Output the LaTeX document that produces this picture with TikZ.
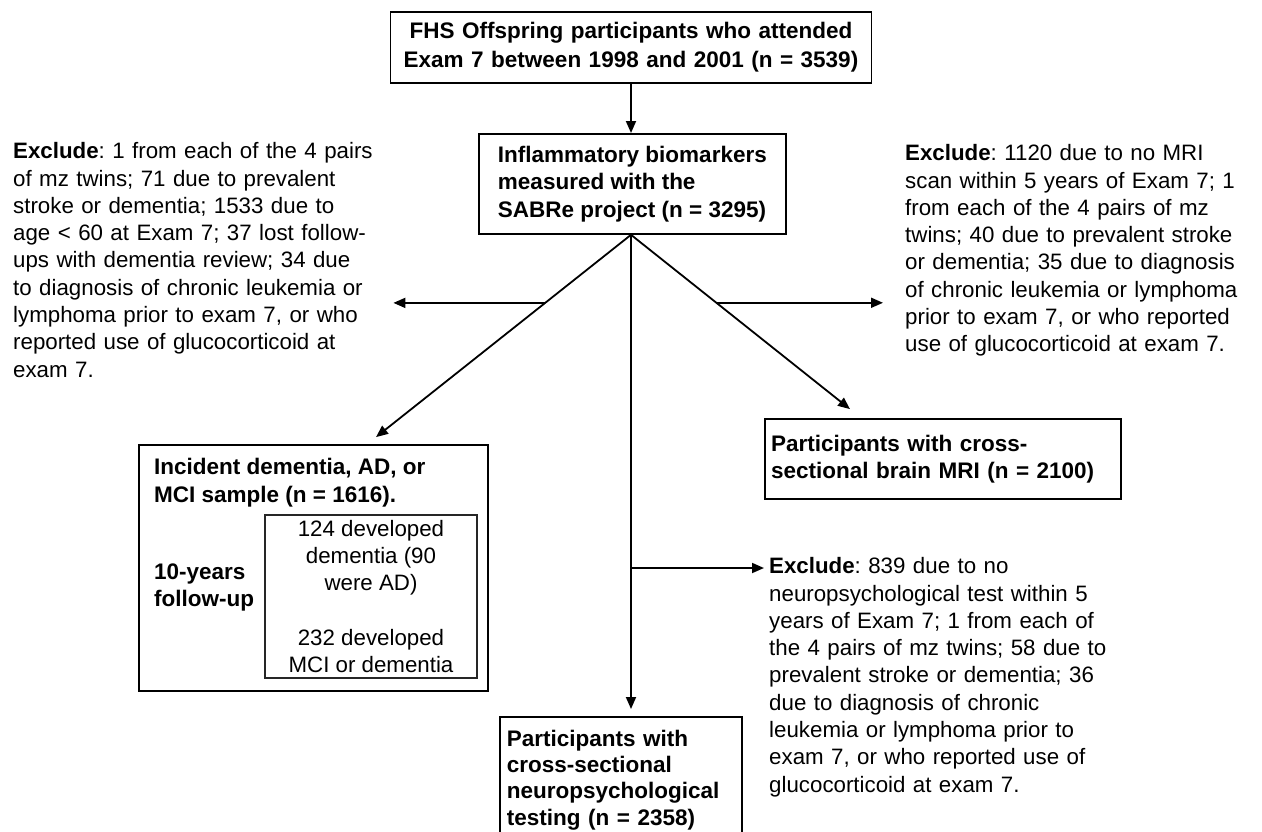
\documentclass[tikz,border=0pt]{standalone}
\usepackage{fontspec}
\setmainfont{Liberation Sans}
\usetikzlibrary{arrows.meta,calc}
\newcommand\fz{\fontsize{22.3pt}{27.3pt}\selectfont\frenchspacing}
\newcommand\fzb{\fontsize{22.5pt}{27.3pt}\selectfont\frenchspacing\bfseries}
\begin{document}
\begin{tikzpicture}[x=1pt,y=-1pt,
  box/.style={draw, line width=1.8pt, font=\fzb},
  txt/.style={font=\fz, inner sep=0pt, align=left, anchor=north west},
  arr/.style={-{Triangle[length=12pt,width=10pt]}, line width=1.8pt}]
\useasboundingbox (0,0) rectangle (1262,831);
\fill[white] (0,0) rectangle (1262,831);
\clip (0,0) rectangle (1262,831);

% main boxes
\node[box, font=\fontsize{22.5pt}{29pt}\selectfont\bfseries, text width=465pt, inner xsep=8pt, minimum height=71pt, align=center] (top) at (631,47.5)
  {FHS Offspring participants who attended\\Exam 7 between 1998 and 2001 (n = 3539)};
\node[box, anchor=north west, inner xsep=18pt, minimum width=307pt, minimum height=100pt, align=left] (mid) at (478,133)
  {Inflammatory biomarkers\\measured with the\\SABRe project (n = 3295)};
\node[box, minimum width=349pt, minimum height=246pt] (inc) at (313.5,568) {};
\node[txt, font=\fzb] (inct) at (154,458.4) {Incident dementia, AD, or\\MCI sample (n = 1616).};
\node[txt, font=\fzb] (fu) at (154,563.4) {10-years\\follow-up};
\node[draw, line width=1.2pt, draw=black!85, font=\fz, minimum width=212pt, minimum height=163pt, align=center] (sub) at (371,596.5)
  {124 developed\\dementia (90\\were AD)\\[27.3pt]232 developed\\MCI or dementia};
\node[box, text width=344pt, inner xsep=6pt, minimum height=80pt, align=left] (mri) at (943,459)
  {Participants with cross-\\sectional brain MRI (n = 2100)};
\node[box, font=\fontsize{22.5pt}{26.3pt}\selectfont\bfseries, anchor=north west, text width=228pt, inner xsep=7pt, inner ysep=13pt, align=left] (neu) at (499,716)
  {Participants with\\cross-sectional\\neuropsychological\\testing (n = 2358)};

% exclusion texts
\node[txt, text width=380pt] (exclL) at (13,142.4)
  {\textbf{Exclude}: 1 from each of the 4 pairs\\of mz twins; 71 due to prevalent\\stroke or dementia; 1533 due to\\age < 60 at Exam 7; 37 lost follow-\\ups with dementia review; 34 due\\to diagnosis of chronic leukemia or\\lymphoma prior to exam 7, or who\\reported use of glucocorticoid at\\exam 7.};
\node[txt, text width=357pt] (exclR) at (905,144.4)
  {\textbf{Exclude}: 1120 due to no MRI\\scan within 5 years of Exam 7; 1\\from each of the 4 pairs of mz\\twins; 40 due to prevalent stroke\\or dementia; 35 due to diagnosis\\of chronic leukemia or lymphoma\\prior to exam 7, or who reported\\use of glucocorticoid at exam 7.};
\node[txt, text width=360pt] (exclB) at (769,557.4)
  {\textbf{Exclude}: 839 due to no\\neuropsychological test within 5\\years of Exam 7; 1 from each of\\the 4 pairs of mz twins; 58 due to\\prevalent stroke or dementia; 36\\due to diagnosis of chronic\\leukemia or lymphoma prior to\\exam 7, or who reported use of\\glucocorticoid at exam 7.};

% connectors
\coordinate (fan) at (top.south |- mid.south);
\draw[arr] (top.south) -- (top.south |- mid.north);
\coordinate (dlt) at ([xshift=62.5pt,yshift=7pt]inc.north);
\coordinate (drt) at ([xshift=-93pt,yshift=9pt]mri.north);
\draw[arr] (fan) -- (dlt);
\draw[arr] (fan) -- (drt);
\coordinate (lh) at ($(fan)!0.3366!(dlt)$);
\coordinate (rh) at ($(fan)!0.39!(drt)$);
\draw[arr] (lh) -- (lh -| exclL.east);
\draw[arr] (rh) -- ([xshift=-22pt]rh -| exclR.west);
\draw[arr] (fan) -- ([yshift=7pt]fan |- neu.north);
\path (fan |- exclB.north) ++(0,10.6) coordinate (bh);
\draw[arr] (bh) -- ([xshift=-5pt]bh -| exclB.west);
\end{tikzpicture}
\end{document}
